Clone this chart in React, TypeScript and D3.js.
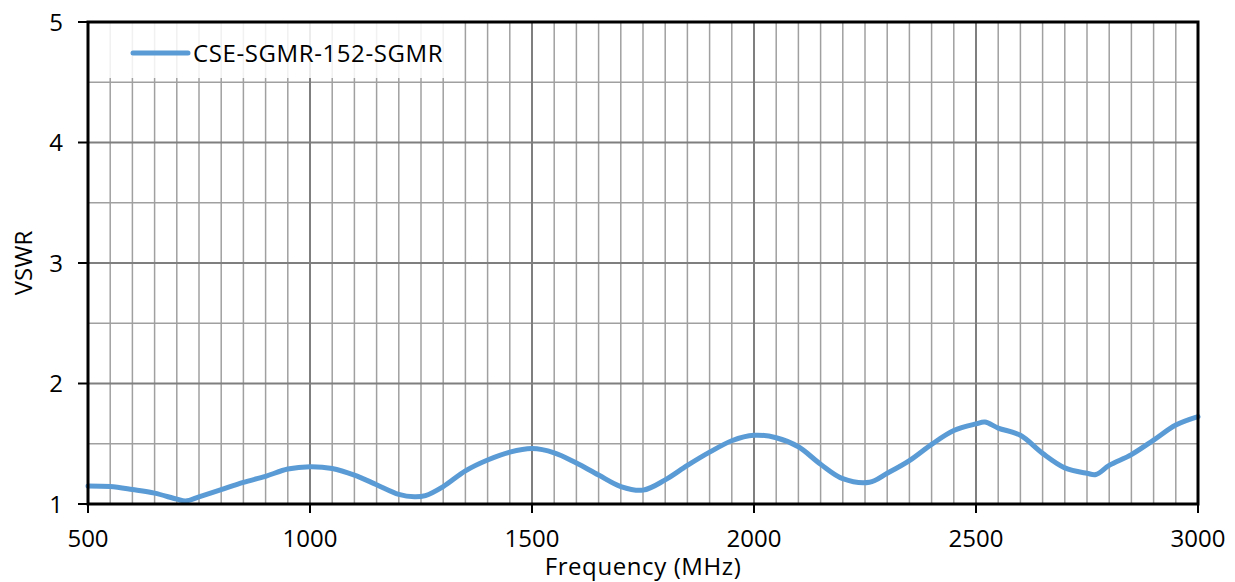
import React from "react";
import * as d3 from "d3";

const freqs = [500, 550, 600, 650, 700, 720, 750, 800, 850, 900, 950, 1000, 1050, 1100, 1150, 1200, 1235, 1260, 1300, 1350, 1400, 1450, 1500, 1550, 1600, 1650, 1700, 1750, 1800, 1850, 1900, 1950, 2000, 2050, 2100, 2150, 2200, 2260, 2300, 2350, 2400, 2450, 2500, 2520, 2550, 2600, 2650, 2700, 2750, 2770, 2800, 2850, 2900, 2950, 3000];
const vswr = [1.15, 1.145, 1.12, 1.09, 1.04, 1.025, 1.06, 1.12, 1.18, 1.23, 1.29, 1.31, 1.295, 1.24, 1.16, 1.08, 1.06, 1.07, 1.145, 1.275, 1.365, 1.43, 1.46, 1.425, 1.34, 1.24, 1.145, 1.115, 1.2, 1.32, 1.43, 1.525, 1.57, 1.55, 1.475, 1.33, 1.21, 1.18, 1.255, 1.36, 1.495, 1.61, 1.665, 1.68, 1.63, 1.57, 1.42, 1.3, 1.255, 1.245, 1.32, 1.41, 1.53, 1.655, 1.725];
const xTicks = [500, 1000, 1500, 2000, 2500, 3000];
const yTicks = [1, 2, 3, 4, 5];
const seriesName = "CSE-SGMR-152-SGMR";

const W = 1235, H = 582;
const L = 88, R = 1198, T = 22, B = 504;
const FONT = "'Open Sans', sans-serif";

export default function App() {
  const x = d3.scaleLinear().domain([500, 3000]).range([L, R]);
  const y = d3.scaleLinear().domain([1, 5]).range([B, T]);
  const minorX = d3.range(550, 3000, 50).filter((v) => v % 500 !== 0);
  const majorX = xTicks.filter((v) => v > 500 && v < 3000);
  const minorY = d3.range(1.5, 5, 1);
  const majorY = yTicks.filter((v) => v > 1 && v < 5);
  const pts = freqs.map((f, i) => [f, vswr[i]] as [number, number]);
  const line = d3
    .line<[number, number]>()
    .x((d) => x(d[0]))
    .y((d) => y(d[1]))
    .curve(d3.curveCatmullRom.alpha(0.5));

  return (
    <svg width={W} height={H} style={{ position: "absolute", left: 0, top: 0, background: "#fff" }} fontFamily={FONT}>
      <rect x={0} y={0} width={W} height={H} fill="#fff" />
      {minorX.map((v) => (
        <line key={"mx" + v} x1={x(v)} x2={x(v)} y1={T} y2={B} stroke="#a0a0a0" strokeWidth={1.5} />
      ))}
      {minorY.map((v) => (
        <line key={"my" + v} x1={L} x2={R} y1={y(v)} y2={y(v)} stroke="#a0a0a0" strokeWidth={1.5} />
      ))}
      {majorX.map((v) => (
        <line key={"Mx" + v} x1={x(v)} x2={x(v)} y1={T} y2={B} stroke="#7f7f7f" strokeWidth={2} />
      ))}
      {majorY.map((v) => (
        <line key={"My" + v} x1={L} x2={R} y1={y(v)} y2={y(v)} stroke="#7f7f7f" strokeWidth={2} />
      ))}
      {/* legend background */}
      <rect x={L} y={T} width={376} height={56} fill="#fff" fillOpacity={0.85} />
      <path d={line(pts) || ""} fill="none" stroke="#5b9bd5" strokeWidth={5} strokeLinejoin="round" strokeLinecap="round" />
      {/* frame */}
      <rect x={L} y={T} width={R - L} height={B - T} fill="none" stroke="#000" strokeWidth={3} />
      {xTicks.map((v) => (
        <g key={"xt" + v}>
          <line x1={x(v)} x2={x(v)} y1={B} y2={B + 9} stroke="#000" strokeWidth={2} />
          <text x={x(v)} y={547} textAnchor="middle" fontSize={24} fill="#000">
            {v}
          </text>
        </g>
      ))}
      {yTicks.map((v) => (
        <g key={"yt" + v}>
          <line x1={L - 10} x2={L} y1={y(v)} y2={y(v)} stroke="#000" strokeWidth={2} />
          <text x={63} y={y(v) + 8.5} textAnchor="end" fontSize={24} fill="#000">
            {v}
          </text>
        </g>
      ))}
      <text x={(L + R) / 2} y={575} textAnchor="middle" fontSize={24} letterSpacing={0.6} fill="#000">
        Frequency (MHz)
      </text>
      <text transform={`translate(32, ${(T + B) / 2}) rotate(-90)`} textAnchor="middle" fontSize={24} fill="#000">
        VSWR
      </text>
      {/* legend entry */}
      <line x1={133} x2={188} y1={53} y2={53} stroke="#5b9bd5" strokeWidth={5} strokeLinecap="round" />
      <text x={193} y={62} fontSize={24} letterSpacing={0.6} fill="#000">
        {seriesName}
      </text>
    </svg>
  );
}
